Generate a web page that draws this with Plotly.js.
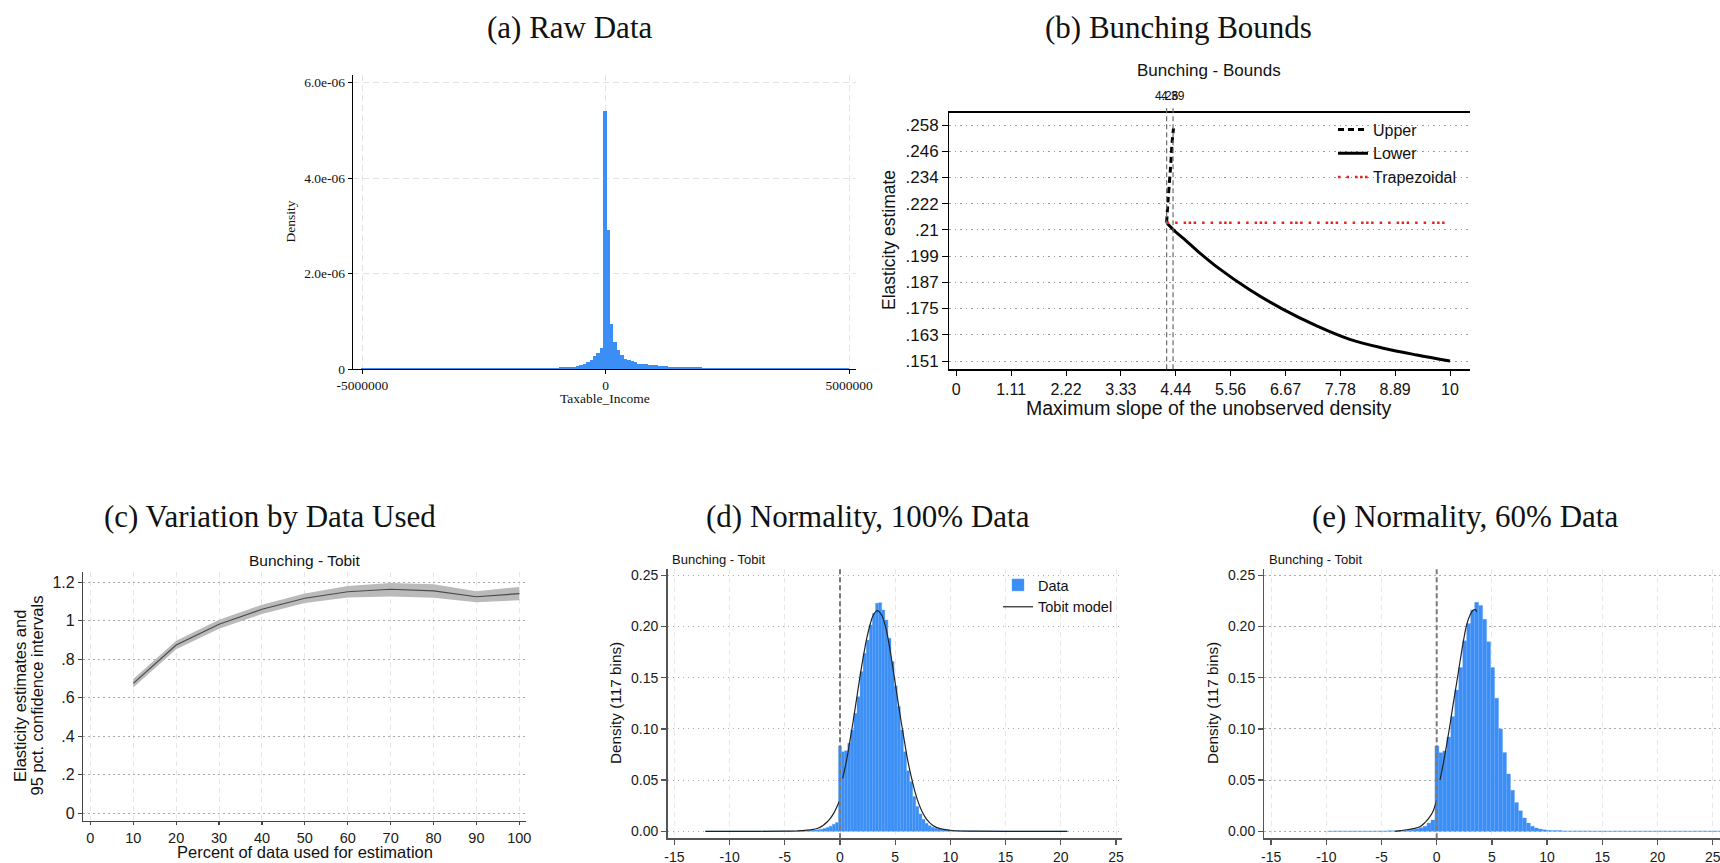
<!DOCTYPE html>
<html>
<head>
<meta charset="utf-8">
<script src="https://cdn.plot.ly/plotly-3.0.1.min.js"></script>
<style>
html,body{margin:0;padding:0;background:#fff;}
#chart{width:1720px;height:863px;}
</style>
</head>
<body>
<div id="chart"></div>
<script>
// ---------------- DATA ----------------
// (a) Raw data histogram: density in units of 1e-6, bins of width 70,000
var aFirstEdge = -5020000;
var aBinWidth = 70000;
var aDensityE6 = [
  0.015,0.015,0.015,0.015,0.015,0.015,0.015,0.015,0.015,0.015,
  0.015,0.015,0.015,0.015,0.015,0.015,0.015,0.015,0.015,0.015,
  0.015,0.015,0.015,0.015,0.015,0.015,0.015,0.015,0.015,0.015,
  0.015,0.015,0.015,0.015,0.015,0.015,0.015,0.015,0.015,0.015,
  0.015,0.015,0.015,0.015,0.015,0.015,0.015,0.015,0.015,0.015,
  0.015,0.015,
  0.018,0.02,0.02,0.02,0.022,0.025,0.035,0.035,0.035,0.04,
  0.05,0.056,0.077,0.11,0.14,0.18,0.27,0.34,0.43,
  5.41,
  2.91,0.94,0.57,0.40,0.29,0.22,0.18,0.16,0.14,0.11,
  0.105,0.10,0.084,0.08,0.075,0.063,0.06,0.058,0.05,0.048,
  0.045,
  0.042,0.042,0.042,0.042,0.042,0.042,0.042,
  0.028,0.028,0.028,0.028,0.028,0.028,
  0.02,0.02,0.02,0.02,0.02,0.02,
  0.015,0.015,0.015,0.015,0.015,0.015,0.015,0.015,0.015,0.015,
  0.015,0.015,0.015,0.015,0.015,0.015,0.015,0.015,0.015,0.015,
  0.015,0.015,0.015,0.015,0.015,0.015,0.015,0.015,0.015,0.015,
  0.015
];
var aXTickVals = [-5000000, 0, 5000000];
var aXTickText = ['-5000000', '0', '5000000'];
var aYTickVals = [0, 2e-6, 4e-6, 6e-6];
var aYTickText = ['0', '2.0e-06', '4.0e-06', '6.0e-06'];

// (b) Bunching bounds
var bUpperX = [4.26, 4.29, 4.34, 4.375, 4.40];
var bUpperY = [0.2137, 0.224, 0.2391, 0.2512, 0.2565];
var bLowerX = [4.26, 4.44, 4.60, 4.94, 5.27, 5.95, 6.62, 7.30, 7.97, 8.65, 9.33, 10];
var bLowerY = [0.2137, 0.2096, 0.2066, 0.1998, 0.1938, 0.1832, 0.1744, 0.1669, 0.1608, 0.1568, 0.1537, 0.151];
var bTrapX = [4.26, 9.97];
var bTrapY = [0.2137, 0.2137];
var bCutoffs = [4.26, 4.39];
var bCutoffLabels = ['4.26', '4.39'];
var bXTickVals = [0, 1.111, 2.222, 3.333, 4.444, 5.556, 6.667, 7.778, 8.889, 10];
var bXTickText = ['0', '1.11', '2.22', '3.33', '4.44', '5.56', '6.67', '7.78', '8.89', '10'];
var bYTickVals = [0.151, 0.1629, 0.1748, 0.1867, 0.1986, 0.2104, 0.2223, 0.2342, 0.2461, 0.258];
var bYTickText = ['.151', '.163', '.175', '.187', '.199', '.21', '.222', '.234', '.246', '.258'];

// (c) Variation by data used
var cPct = [10, 20, 30, 40, 50, 60, 70, 80, 90, 100];
var cEst = [0.675, 0.874, 0.982, 1.060, 1.117, 1.151, 1.164, 1.155, 1.125, 1.141];
var cLow = [0.653, 0.852, 0.959, 1.036, 1.092, 1.121, 1.126, 1.120, 1.096, 1.107];
var cHigh = [0.698, 0.896, 1.005, 1.084, 1.142, 1.181, 1.196, 1.190, 1.154, 1.176];
var cXTickVals = [0, 10, 20, 30, 40, 50, 60, 70, 80, 90, 100];
var cYTickVals = [0, 0.2, 0.4, 0.6, 0.8, 1, 1.2];
var cYTickText = ['0', '.2', '.4', '.6', '.8', '1', '1.2'];

// (d) Normality, 100% data: 117 bins
var dFirstEdge = -12.18;
var dBinWidth = 0.28;
var dDensity = [
  0.0001,0.0001,0.0001,0.0001,0.0001,0.0001,0.0001,0.0001,0.0001,0.0001,
  0.0001,0.0001,0.0001,0.0001,0.0001,0.0001,0.0001,0.0001,0.0001,0.0001,
  0.0001,0.0001,0.0001,0.0001,0.0001,0.0001,0.0001,0.0001,0.0001,0.0001,
  0.0003,0.0004,0.0005,0.0007,0.0009,0.0012,0.0016,0.0021,0.0028,0.0038,
  0.005,0.0068,0.0085,
  0.0833,0.0777,0.0787,0.086,0.099,0.1153,0.1315,0.156,0.1738,0.1868,
  0.2015,0.2129,0.2227,0.2233,0.2161,0.2064,0.1885,0.1657,0.142,0.1218,
  0.099,0.0777,0.0592,0.0485,0.0339,0.0241,0.017,0.0117,0.0078,0.0055,
  0.0039,0.003,0.0023,0.0018,0.0014,0.0012,0.001,0.0008,0.0007,0.0006,
  0.0005,0.0004,0.0004,
  0.0003,0.0003,0.0003,0.0003,0.0003,0.0003,0.0003,0.0003,0.0003,0.0003,
  0.0001,0.0001,0.0001,0.0001,0.0001,0.0001,0.0001,0.0001,0.0001,0.0001,
  0.0001,0.0001,0.0001,0.0001,0.0001,0.0001,0.0001,0.0001,0.0001,0.0001,
  0.0001
];
var dTobitX = [-12.2, -8, -5, -4, -3.62, -3, -2.42, -2, -1.51, -1.2, -0.91, -0.6, -0.3, -0.06, null,
  0.24, 0.6, 0.91, 1.21, 1.51, 1.81, 2.11, 2.42, 2.72, 3.02,
  3.38, 3.77, 4.08, 4.38, 4.68, 4.98, 5.28, 5.59, 5.89, 6.19,
  6.49, 6.79, 7.1, 7.4, 7.85, 8.45, 9.06, 9.96, 10.87, 12, 15, 20.6];
var dTobitY = [0, 0, 0.0001, 0.0003, 0.0006, 0.0011, 0.0019, 0.003, 0.006, 0.0088, 0.0122, 0.017, 0.0235, 0.0294, null,
  0.0517, 0.0696, 0.0892, 0.1087, 0.1299, 0.151, 0.1705, 0.1885, 0.2015, 0.2112,
  0.2155, 0.2112, 0.2015, 0.1868, 0.1673, 0.1461, 0.125, 0.1038, 0.0843, 0.0664,
  0.0517, 0.0387, 0.028, 0.0201, 0.0117, 0.0055, 0.0026, 0.001, 0.0003, 0.0001, 0, 0];

// (e) Normality, 60% data: 117 bins
var eFirstEdge = -9.88;
var eBinWidth = 0.36;
var eDensity = [
  0.0002,0.0002,0.0002,0.0002,0.0002,0.0002,0.0002,0.0002,0.0002,0.0002,
  0.0002,0.0002,0.0002,0.0002,0.0002,
  0.0005,0.0005,0.0005,0.0005,
  0.0008,0.0011,0.0017,0.0025,0.0035,0.005,0.008,0.011,
  0.0833,0.0768,0.0785,0.092,0.112,0.138,0.160,0.186,0.203,0.216,
  0.2236,0.2205,0.207,0.185,0.160,0.130,0.100,0.077,0.056,0.040,
  0.028,0.020,0.013,0.008,0.005,0.0032,0.0022,0.0015,0.001,
  0.0007,0.0007,0.0007,
  0.0004,0.0004,0.0004,0.0004,0.0004,0.0004,0.0004,
  0.0002,0.0002,0.0002,0.0002,0.0002,0.0002,0.0002,0.0002,0.0002,0.0002,
  0.0002,0.0002,0.0002,0.0002,0.0002,0.0002,0.0002,0.0002,0.0002,0.0002,
  0.0002,0.0002,0.0002,0.0002,0.0002,0.0002,0.0002,0.0002,0.0002,0.0002,
  0.0002,0.0002,0.0002,0.0002,0.0002,0.0002,0.0002,0.0002,0.0002,0.0002,
  0.0002,0.0002,0.0002,0.0002,0.0002,0.0002,0.0002,0.0002,0.0002,0.0002,
  0.0002
];
var eTobitX = [-3.76, -3.32, -2.7, -2.12, -1.52, -1.07, -0.61, -0.31, -0.02, null,
  0.3, 0.6, 0.9, 1.2, 1.5, 1.8, 2.11, 2.41, 2.71, 3.02, 3.32, 3.5, 3.62];
var eTobitY = [0, 0.0006, 0.0015, 0.0026, 0.0045, 0.0085, 0.0143, 0.0201, 0.0299, null,
  0.0501, 0.0664, 0.0843, 0.1038, 0.125, 0.1445, 0.1656, 0.1852, 0.2015, 0.2112, 0.2161, 0.2165, 0.2145];

var censorPoint = 0;
var deXTickVals = [-15, -10, -5, 0, 5, 10, 15, 20, 25];
var deXTickText = ['-15', '-10', '-5', '0', '5', '10', '15', '20', '25'];
var deYTickVals = [0, 0.05, 0.10, 0.15, 0.20, 0.25];

// ---------------- LAYOUT HELPERS ----------------
var W = 1720, H = 863;
function px(x) { return x / W; }
function py(y) { return 1 - y / H; }
var SANS = 'Liberation Sans, Arial, sans-serif';
var SERIF = 'Liberation Serif, Times New Roman, serif';
var BLUE = '#3a8ef6';

// ---------------- TRACES ----------------
var traces = [];

// (a)
traces.push({
  type: 'bar', xaxis: 'x', yaxis: 'y',
  x0: aFirstEdge + aBinWidth / 2, dx: aBinWidth, width: aBinWidth,
  y: aDensityE6.map(function (v) { return v * 1e-6; }),
  marker: { color: BLUE, line: { width: 0 } },
  showlegend: false
});

// (b)
traces.push({
  type: 'scatter', mode: 'lines', xaxis: 'x2', yaxis: 'y2', name: 'Upper',
  x: bUpperX, y: bUpperY,
  line: { color: '#000', width: 3, dash: '6px,4px', shape: 'spline' },
  legend: 'legend'
});
traces.push({
  type: 'scatter', mode: 'lines', xaxis: 'x2', yaxis: 'y2', name: 'Lower',
  x: bLowerX, y: bLowerY,
  line: { color: '#000', width: 3, shape: 'spline' },
  legend: 'legend'
});
traces.push({
  type: 'scatter', mode: 'lines', xaxis: 'x2', yaxis: 'y2', name: 'Trapezoidal',
  x: bTrapX, y: bTrapY,
  line: { color: '#e52420', width: 2.5, dash: '2.5px,6px,2.5px,6px,2.5px,2.5px,2.5px,2.5px,2.5px,6px' },
  legend: 'legend'
});

// (c)
traces.push({
  type: 'scatter', mode: 'lines', xaxis: 'x3', yaxis: 'y3',
  x: cPct, y: cLow, line: { width: 0, color: '#bababa' }, showlegend: false
});
traces.push({
  type: 'scatter', mode: 'lines', xaxis: 'x3', yaxis: 'y3',
  x: cPct, y: cHigh, fill: 'tonexty', fillcolor: '#bababa',
  line: { width: 0, color: '#bababa' }, showlegend: false
});
traces.push({
  type: 'scatter', mode: 'lines', xaxis: 'x3', yaxis: 'y3',
  x: cPct, y: cEst, line: { width: 1.2, color: '#4a4a4a' }, showlegend: false
});

// (d)
traces.push({
  type: 'bar', xaxis: 'x4', yaxis: 'y4', name: 'Data',
  x0: dFirstEdge + dBinWidth / 2, dx: dBinWidth, width: dBinWidth,
  y: dDensity,
  marker: { color: BLUE, line: { width: 0.4, color: '#5fa3f7' } },
  legend: 'legend2'
});
traces.push({
  type: 'scatter', mode: 'lines', xaxis: 'x4', yaxis: 'y4', name: 'Tobit model',
  x: dTobitX, y: dTobitY, connectgaps: false,
  line: { color: '#222', width: 1.2, shape: 'spline' },
  legend: 'legend2'
});

// (e)
traces.push({
  type: 'bar', xaxis: 'x5', yaxis: 'y5',
  x0: eFirstEdge + eBinWidth / 2, dx: eBinWidth, width: eBinWidth,
  y: eDensity,
  marker: { color: BLUE, line: { width: 0.4, color: '#5fa3f7' } },
  showlegend: false
});
traces.push({
  type: 'scatter', mode: 'lines', xaxis: 'x5', yaxis: 'y5',
  x: eTobitX, y: eTobitY, connectgaps: false,
  line: { color: '#222', width: 1.2, shape: 'spline' },
  showlegend: false
});

// ---------------- AXES ----------------
function sansAxis(extra) {
  var base = {
    showline: true, linecolor: '#555', linewidth: 1.4,
    ticks: 'outside', ticklen: 5, tickcolor: '#555', tickwidth: 1.2,
    zeroline: false, showgrid: true, automargin: false,
    ticklabeloverflow: 'allow',
    tickfont: { family: SANS, size: 14, color: '#1a1a1a' }
  };
  for (var k in extra) base[k] = extra[k];
  return base;
}

var layout = {
  width: W, height: H,
  margin: { l: 0, r: 0, t: 0, b: 0, pad: 0 },
  paper_bgcolor: '#fff', plot_bgcolor: 'rgba(0,0,0,0)',
  font: { family: SANS, color: '#111' },
  bargap: 0,
  hovermode: false,

  // (a)
  xaxis: {
    domain: [px(352.7), px(856)], range: [-5.197e6, 5.142e6], anchor: 'y',
    tickmode: 'array', tickvals: aXTickVals, ticktext: aXTickText,
    showline: true, linecolor: '#000', linewidth: 1,
    ticks: 'outside', ticklen: 4, tickcolor: '#000',
    showgrid: true, gridcolor: '#e4e4e4', griddash: '6px,4px', gridwidth: 1,
    zeroline: false, automargin: false, ticklabeloverflow: 'allow',
    tickfont: { family: SERIF, size: 13.5, color: '#111' }
  },
  yaxis: {
    domain: [py(369), py(75)], range: [0, 6.16e-6], anchor: 'x',
    tickmode: 'array', tickvals: aYTickVals, ticktext: aYTickText,
    showline: true, linecolor: '#000', linewidth: 1,
    ticks: 'outside', ticklen: 4, tickcolor: '#000',
    showgrid: true, gridcolor: '#e4e4e4', griddash: '6px,4px', gridwidth: 1,
    zeroline: false, automargin: false, ticklabeloverflow: 'allow',
    tickfont: { family: SERIF, size: 13.5, color: '#111' }
  },

  // (b)
  xaxis2: {
    domain: [px(949.2), px(1470)], range: [-0.1438, 10.405], anchor: 'y2',
    tickmode: 'array', tickvals: bXTickVals, ticktext: bXTickText,
    showline: true, mirror: true, linecolor: '#000', linewidth: 1.2,
    ticks: 'outside', ticklen: 5, tickcolor: '#000',
    showgrid: false, zeroline: false, automargin: false, ticklabeloverflow: 'allow',
    tickfont: { family: SANS, size: 16, color: '#111' }
  },
  yaxis2: {
    domain: [py(369.3), py(112.5)], range: [0.14724, 0.26367], anchor: 'x2',
    tickmode: 'array', tickvals: bYTickVals, ticktext: bYTickText,
    showline: true, linecolor: '#000', linewidth: 1.2,
    ticks: 'outside', ticklen: 6, tickcolor: '#000',
    showgrid: true, gridcolor: '#9a9a9a', griddash: '1.5px,4px', gridwidth: 1,
    zeroline: false, automargin: false, ticklabeloverflow: 'allow',
    tickfont: { family: SANS, size: 17, color: '#111' }
  },

  // (c)
  xaxis3: sansAxis({
    domain: [px(83.3), px(526)], range: [-1.655, 101.56], anchor: 'y3',
    tickmode: 'array', tickvals: cXTickVals,
    linecolor: '#444', tickcolor: '#444', ticklen: 3,
    gridcolor: '#e6e6e6', griddash: '5px,4px',
    tickfont: { family: SANS, size: 14.5, color: '#1a1a1a' }
  }),
  yaxis3: sansAxis({
    domain: [py(821), py(571.7)], range: [-0.04, 1.2551], anchor: 'x3',
    tickmode: 'array', tickvals: cYTickVals, ticktext: cYTickText,
    linecolor: '#444', tickcolor: '#444', ticklen: 4,
    gridcolor: '#ababab', griddash: '1.5px,3.5px',
    tickfont: { family: SANS, size: 16, color: '#1a1a1a' }
  }),

  // (d)
  xaxis4: sansAxis({
    domain: [px(667.5), px(1122)], range: [-15.625, 25.543], anchor: 'y4',
    tickmode: 'array', tickvals: deXTickVals, ticktext: deXTickText,
    gridcolor: '#e8e8e8', griddash: '5px,4px'
  }),
  yaxis4: sansAxis({
    domain: [py(838.3), py(569.3)], range: [-0.00684, 0.25586], anchor: 'x4',
    tickmode: 'array', tickvals: deYTickVals, tickformat: '.2f',
    gridcolor: '#ababab', griddash: '1.5px,3.5px'
  }),

  // (e)
  xaxis5: sansAxis({
    domain: [px(1264.4), 1], range: [-15.607, 25.661], anchor: 'y5',
    tickmode: 'array', tickvals: deXTickVals, ticktext: deXTickText,
    gridcolor: '#e8e8e8', griddash: '5px,4px'
  }),
  yaxis5: sansAxis({
    domain: [py(838.3), py(569.3)], range: [-0.00684, 0.25586], anchor: 'x5',
    tickmode: 'array', tickvals: deYTickVals, tickformat: '.2f',
    gridcolor: '#ababab', griddash: '1.5px,3.5px'
  }),

  legend: {
    x: px(1333), y: py(112.5), xanchor: 'left', yanchor: 'top',
    bgcolor: 'rgba(0,0,0,0)', borderwidth: 0,
    font: { family: SANS, size: 16, color: '#111' },
    itemwidth: 30, traceorder: 'normal'
  },
  legend2: {
    x: px(998), y: py(569), xanchor: 'left', yanchor: 'top',
    bgcolor: 'rgba(0,0,0,0)', borderwidth: 0,
    font: { family: SANS, size: 14.5, color: '#111' },
    itemwidth: 30, traceorder: 'normal'
  },

  shapes: [],
  annotations: []
};

// vertical dashed lines in (b)
bCutoffs.forEach(function (v) {
  layout.shapes.push({
    type: 'line', xref: 'x2', yref: 'y2 domain', x0: v, x1: v, y0: 0, y1: 1.023,
    line: { color: '#6a6a6a', width: 1.2, dash: '5px,3px' }
  });
});
// censoring point lines in (d) and (e)
[['x4', 'y4 domain'], ['x5', 'y5 domain']].forEach(function (r) {
  layout.shapes.push({
    type: 'line', xref: r[0], yref: r[1], x0: censorPoint, x1: censorPoint, y0: 0, y1: 1,
    line: { color: '#7a7a7a', width: 2, dash: '5px,3px' }
  });
});

function ann(text, x, y, opts) {
  var a = {
    text: text, xref: 'paper', yref: 'paper', x: x, y: y,
    xanchor: 'center', yanchor: 'middle', showarrow: false,
    font: { family: SANS, size: 14, color: '#111' }
  };
  for (var k in opts) a[k] = opts[k];
  layout.annotations.push(a);
}
var titleFont = { family: SERIF, size: 31, color: '#111' };
ann('(a) Raw Data', px(569), py(28), { font: titleFont });
ann('(b) Bunching Bounds', px(1178.5), py(28), { font: titleFont });
ann('(c) Variation by Data Used', px(270), py(516.7), { font: titleFont });
ann('(d) Normality, 100% Data', px(867.5), py(516.7), { font: titleFont });
ann('(e) Normality, 60% Data', px(1465), py(516.7), { font: titleFont });

// subtitles
ann('Bunching - Bounds', px(1209), py(70.7), { font: { family: SANS, size: 17, color: '#111' } });
ann('Bunching - Tobit', px(304.8), py(560), { font: { family: SANS, size: 15.5, color: '#111' } });
ann('Bunching - Tobit', px(670), py(559), { xanchor: 'left', font: { family: SANS, size: 13, color: '#111' } });
ann('Bunching - Tobit', px(1266.8), py(559), { xanchor: 'left', font: { family: SANS, size: 13, color: '#111' } });

// axis titles
ann('Taxable_Income', px(605.3), py(399), { font: { family: SERIF, size: 13.5, color: '#111' } });
ann('Density', px(290.7), py(221.7), { textangle: -90, font: { family: SERIF, size: 13.5, color: '#111' } });
ann('Maximum slope of the unobserved density', px(1209), py(408), { font: { family: SANS, size: 19.5, color: '#111' } });
ann('Elasticity estimate', px(889), py(240), { textangle: -90, font: { family: SANS, size: 17.5, color: '#111' } });
ann('Percent of data used for estimation', px(304.8), py(863), { yanchor: 'bottom', font: { family: SANS, size: 16.5, color: '#111' } });
ann('Elasticity estimates and', px(20), py(696), { textangle: -90, font: { family: SANS, size: 16.5, color: '#111' } });
ann('95 pct. confidence intervals', px(36.5), py(696), { textangle: -90, font: { family: SANS, size: 16.5, color: '#111' } });
ann('Density (117 bins)', px(615.7), py(703.3), { textangle: -90, font: { family: SANS, size: 15.3, color: '#111' } });
ann('Density (117 bins)', px(1212.7), py(703.3), { textangle: -90, font: { family: SANS, size: 15.3, color: '#111' } });

// cutoff labels above panel (b) (they overlap in the original too)
bCutoffs.forEach(function (v, i) {
  layout.annotations.push({
    text: bCutoffLabels[i], xref: 'x2', yref: 'paper', x: v, y: py(96),
    xanchor: 'center', yanchor: 'middle', showarrow: false,
    font: { family: SANS, size: 12, color: '#111' }
  });
});

Plotly.newPlot('chart', traces, layout, { staticPlot: true, displayModeBar: false });
</script>
</body>
</html>
